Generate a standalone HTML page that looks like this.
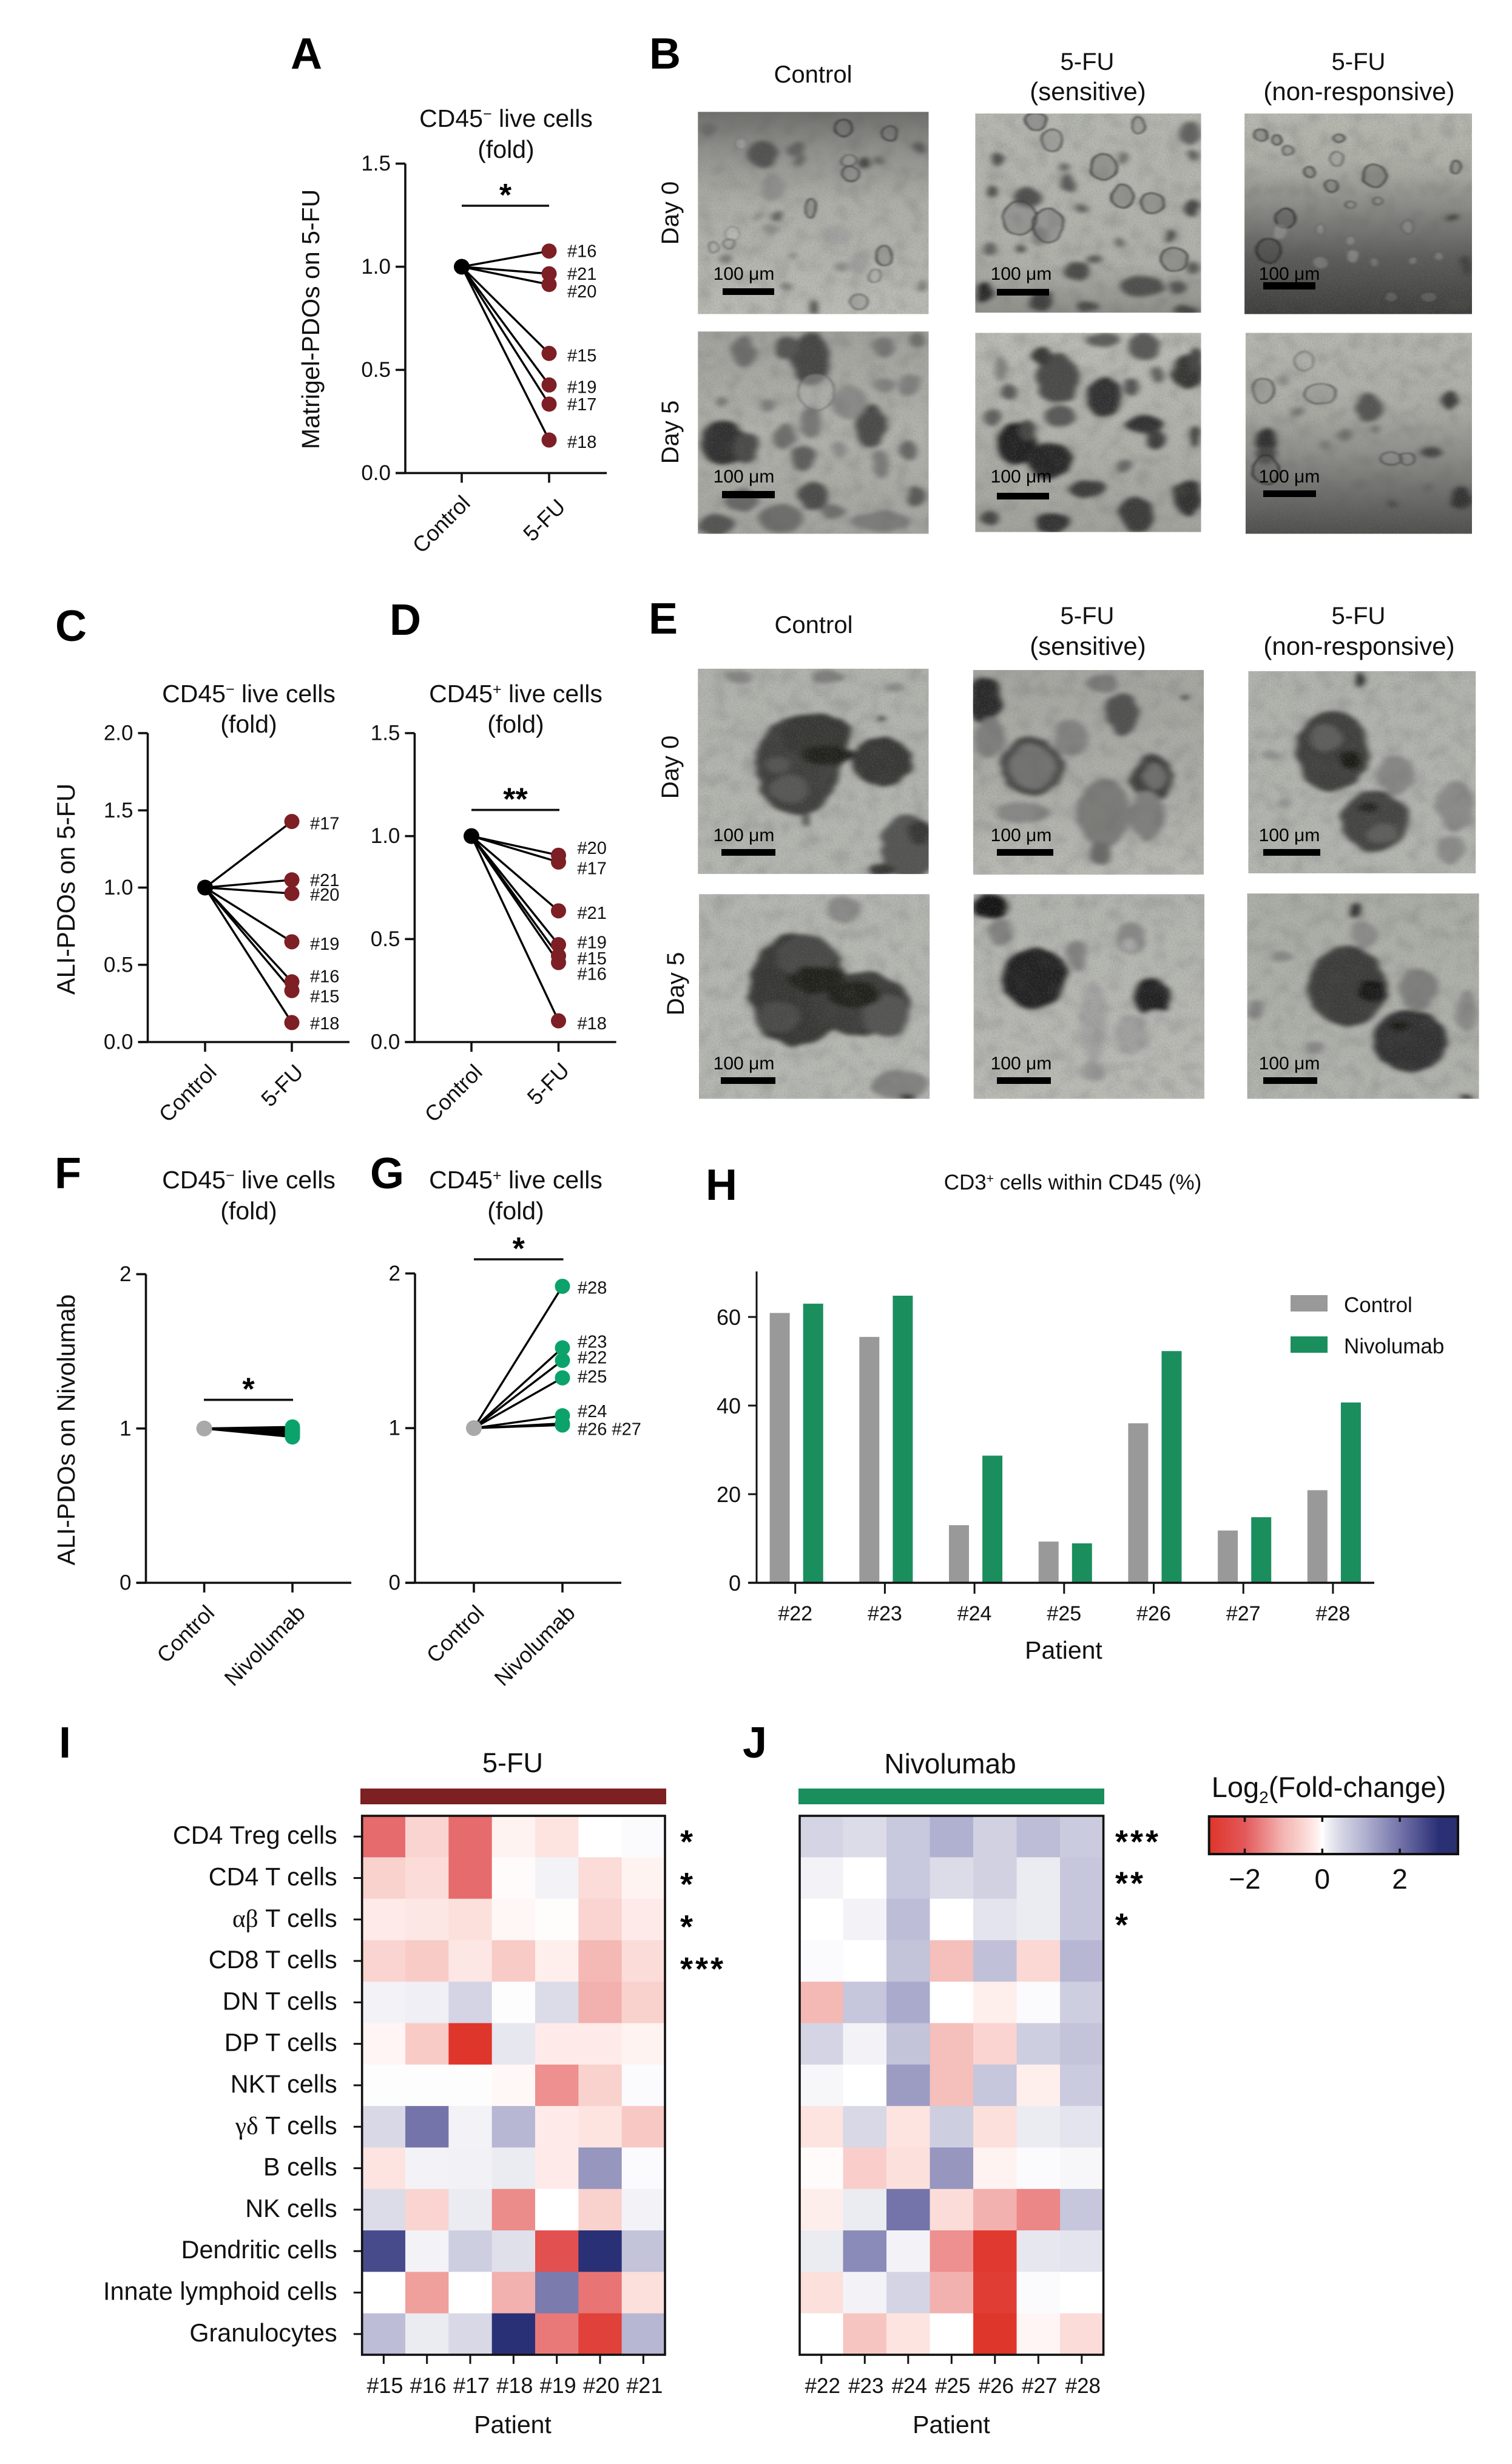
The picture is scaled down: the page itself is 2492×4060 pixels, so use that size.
<!DOCTYPE html>
<html lang="en">
<head>
<meta charset="utf-8">
<title>PDO drug response figure</title>
<style>
html,body{margin:0;padding:0;background:#fff;}
svg{display:block;font-family:"Liberation Sans",sans-serif;fill:#111;}
.pl{font-size:72px;font-weight:bold;fill:#000;}
.h{font-size:40px;text-anchor:middle;}
.h2{font-size:42px;text-anchor:middle;}
.t{font-size:41px;text-anchor:middle;}
.d{font-size:40px;text-anchor:middle;}
</style>
</head>
<body>
<svg id="fig" xmlns="http://www.w3.org/2000/svg" width="2492" height="4060" viewBox="0 0 2492 4060">
<defs>
<filter id="soft" x="-20%" y="-20%" width="140%" height="140%">
<feTurbulence type="fractalNoise" baseFrequency="0.025" numOctaves="2" seed="7" result="n"/>
<feDisplacementMap in="SourceGraphic" in2="n" scale="18" xChannelSelector="R" yChannelSelector="G"/>
<feGaussianBlur stdDeviation="6"/>
</filter>
<filter id="ringblur" x="-20%" y="-20%" width="140%" height="140%">
<feTurbulence type="fractalNoise" baseFrequency="0.03" numOctaves="2" seed="3" result="n"/>
<feDisplacementMap in="SourceGraphic" in2="n" scale="8" xChannelSelector="R" yChannelSelector="G"/>
<feGaussianBlur stdDeviation="2.4"/>
</filter>
<filter id="grain" x="0" y="0" width="100%" height="100%">
<feTurbulence type="fractalNoise" baseFrequency="0.4" numOctaves="2" seed="4"/>
<feColorMatrix type="matrix" values="0 0 0 0 0.2  0 0 0 0 0.2  0 0 0 0 0.2  2.2 0 0 0 -0.98"/>
</filter>
<filter id="mottle" x="0" y="0" width="100%" height="100%">
<feTurbulence type="fractalNoise" baseFrequency="0.04" numOctaves="2" seed="11"/>
<feColorMatrix type="matrix" values="0 0 0 0 0.1  0 0 0 0 0.1  0 0 0 0 0.1  1.6 0 0 0 -0.7"/>
<feGaussianBlur stdDeviation="3"/>
</filter>
</defs>
<rect width="2492" height="4060" fill="#fff"/>
<g id="micrographs"></g>

<text class="pl" x="479" y="113">A</text>
<text class="pl" x="1070" y="113">B</text>
<text class="pl" x="91" y="1056">C</text>
<text class="pl" x="642" y="1046">D</text>
<text class="pl" x="1069" y="1044">E</text>
<text class="pl" x="90" y="1958">F</text>
<text class="pl" x="610" y="1958">G</text>
<text class="pl" x="1163" y="1977">H</text>
<text class="pl" x="97" y="2896">I</text>
<text class="pl" x="1224" y="2896">J</text>

<g>
<text class="h" x="1340" y="136">Control</text>
<text class="h" x="1792" y="115">5-FU</text>
<text class="h2" x="1793" y="165">(sensitive)</text>
<text class="h" x="2239" y="115">5-FU</text>
<text class="h2" x="2240" y="165">(non-responsive)</text>
<text class="d" transform="translate(1118,351) rotate(-90)">Day 0</text>
<text class="d" transform="translate(1118,712) rotate(-90)">Day 5</text>
</g>
<g>
<text class="h" x="1341" y="1043">Control</text>
<text class="h" x="1792" y="1028">5-FU</text>
<text class="h2" x="1793" y="1079">(sensitive)</text>
<text class="h" x="2239" y="1028">5-FU</text>
<text class="h2" x="2240" y="1079">(non-responsive)</text>
<text class="d" transform="translate(1118,1264) rotate(-90)">Day 0</text>
<text class="d" transform="translate(1127,1621) rotate(-90)">Day 5</text>
</g>
<g id="scalebars"></g>

<!-- panel titles and axis titles -->
<text class="t" x="834" y="209">CD45<tspan dy="-13" font-size="25">−</tspan><tspan dy="13"> live cells</tspan></text>
<text class="t" x="834" y="260">(fold)</text>
<text class="t" transform="translate(526,526) rotate(-90)">Matrigel-PDOs on 5-FU</text>
<text class="t" x="410" y="1157">CD45<tspan dy="-13" font-size="25">−</tspan><tspan dy="13"> live cells</tspan></text>
<text class="t" x="410" y="1207">(fold)</text>
<text class="t" style="font-size:41.5px" transform="translate(123,1465) rotate(-90)">ALI-PDOs on 5-FU</text>
<text class="t" x="850" y="1157">CD45<tspan dy="-13" font-size="25">+</tspan><tspan dy="13"> live cells</tspan></text>
<text class="t" x="850" y="1207">(fold)</text>
<text class="t" x="410" y="1958">CD45<tspan dy="-13" font-size="25">−</tspan><tspan dy="13"> live cells</tspan></text>
<text class="t" x="410" y="2009">(fold)</text>
<text class="t" transform="translate(123,2356) rotate(-90)">ALI-PDOs on Nivolumab</text>
<text class="t" x="850" y="1958">CD45<tspan dy="-13" font-size="25">+</tspan><tspan dy="13"> live cells</tspan></text>
<text class="t" x="850" y="2009">(fold)</text>
<text x="1768" y="1960" font-size="35" text-anchor="middle">CD3<tspan dy="-11" font-size="21">+</tspan><tspan dy="11"> cells within CD45 (%)</tspan></text>
<text x="1753" y="2733" font-size="41" text-anchor="middle">Patient</text>

<g id="charts"></g>

<text x="845" y="2920" font-size="45" text-anchor="middle">5-FU</text>
<rect x="594" y="2947" width="504" height="26" fill="#7d2022"/>
<text x="1566" y="2922" font-size="46" text-anchor="middle">Nivolumab</text>
<rect x="1316" y="2947" width="504" height="26" fill="#1b8e5e"/>
<text x="845" y="4009" font-size="41" text-anchor="middle">Patient</text>
<text x="1568" y="4009" font-size="41" text-anchor="middle">Patient</text>
<text x="2190" y="2961" font-size="47" text-anchor="middle">Log<tspan dy="10" font-size="28">2</tspan><tspan dy="-10">(Fold-change)</tspan></text>

<script>
// ---- Panel A: Matrigel-PDOs on 5-FU, CD45- live cells
const patientsA = ['#16','#21','#20','#15','#19','#17','#18'];
const valuesA = [1.076,0.966,0.914,0.58,0.427,0.334,0.16];
const ticksA = [0,0.5,1,1.5];
const tickLabelsA = ['0.0','0.5','1.0','1.5'];
// ---- Panel C: ALI-PDOs on 5-FU, CD45- live cells
const patientsC = ['#17','#21','#20','#19','#16','#15','#18'];
const valuesC = [1.428,1.05,0.962,0.649,0.39,0.333,0.126];
const ticksC = [0,0.5,1,1.5,2];
const tickLabelsC = ['0.0','0.5','1.0','1.5','2.0'];
// ---- Panel D: ALI-PDOs on 5-FU, CD45+ live cells
const patientsD = ['#20','#17','#21','#19','#15','#16','#18'];
const valuesD = [0.907,0.874,0.637,0.473,0.419,0.386,0.103];
const ticksD = [0,0.5,1,1.5];
const tickLabelsD = ['0.0','0.5','1.0','1.5'];
// ---- Panel F: ALI-PDOs on Nivolumab, CD45- live cells
const patientsF = ['','','','','','',''];
const valuesF = [1.01,1.0,0.99,0.98,0.97,0.96,0.945];
const ticksF = [0,1,2];
const tickLabelsF = ['0','1','2'];
// ---- Panel G: ALI-PDOs on Nivolumab, CD45+ live cells
const patientsG = ['#28','#23','#22','#25','#24','#26 #27',''];
const valuesG = [1.917,1.519,1.438,1.325,1.08,1.03,1.02];
const ticksG = [0,1,2];
const tickLabelsG = ['0','1','2'];
// ---- Panel H: CD3+ cells within CD45 (%)
const categoriesH = ['#22','#23','#24','#25','#26','#27','#28'];
const controlH = [60.9,55.5,13,9.3,36,11.8,20.9];
const nivolumabH = [63,64.8,28.7,8.9,52.3,14.8,40.7];
const ticksH = [0,20,40,60];
// ---- Panels I / J: heatmaps of Log2(fold-change)
const cellTypes = ['CD4 Treg cells','CD4 T cells','αβ T cells','CD8 T cells','DN T cells','DP T cells','NKT cells','γδ T cells','B cells','NK cells','Dendritic cells','Innate lymphoid cells','Granulocytes'];
const patientsI = ['#15','#16','#17','#18','#19','#20','#21'];
const patientsJ = ['#22','#23','#24','#25','#26','#27','#28'];
const heatI = [
[-1.8,-0.5,-1.8,-0.1,-0.3,0,0.03],
[-0.55,-0.4,-1.8,-0.03,0.1,-0.4,-0.1],
[-0.2,-0.25,-0.35,-0.07,-0.02,-0.5,-0.2],
[-0.5,-0.65,-0.25,-0.65,-0.15,-0.95,-0.4],
[0.1,0.15,0.5,0.02,0.4,-1.05,-0.55],
[-0.08,-0.65,-2.9,0.25,-0.2,-0.2,-0.1],
[0.02,0.02,0.02,-0.06,-1.4,-0.55,0.03],
[0.45,2.0,0.1,1.0,-0.2,-0.3,-0.7],
[-0.3,0.1,0.12,0.2,-0.2,1.5,0.03],
[0.4,-0.5,0.2,-1.45,0,-0.55,0.1],
[2.6,0.1,0.6,0.35,-2.2,3.0,0.8],
[0,-1.25,0,-1.05,1.9,-1.7,-0.35],
[0.9,0.2,0.45,3.0,-1.65,-2.6,1.0]];
const heatJ = [
[0.5,0.4,0.7,1.1,0.55,0.9,0.65],
[0.1,0,0.7,0.4,0.55,0.2,0.75],
[0,0.1,0.9,0,0.3,0.2,0.75],
[0.03,0,0.8,-0.85,0.85,-0.45,1.0],
[-0.95,0.75,1.2,0,-0.15,0.03,0.6],
[0.5,0.1,0.8,-0.85,-0.5,0.6,0.8],
[0.07,0,1.4,-0.85,0.75,-0.15,0.65],
[-0.3,0.45,-0.3,0.6,-0.35,0.2,0.3],
[-0.03,-0.6,-0.35,1.5,-0.1,0.03,0.07],
[-0.17,0.2,2.0,-0.4,-1.05,-1.5,0.75],
[0.2,1.65,0.1,-1.4,-2.8,0.25,0.3],
[-0.35,0.1,0.5,-1.05,-2.7,0.03,0],
[0,-0.75,-0.3,0,-2.9,-0.08,-0.4]];
const starsI = ['*','*','*','***'];
const starsJ = ['***','**','*'];
const colorbarTicks = [-2,0,2];

const NS = 'http://www.w3.org/2000/svg';
const charts = document.getElementById('charts');
function mk(parent, tag, attrs, text) {
  const el = document.createElementNS(NS, tag);
  for (const k in attrs) el.setAttribute(k, attrs[k]);
  if (text !== undefined) el.textContent = text;
  parent.appendChild(el);
  return el;
}
const AXC = '#111';
const AXW = 3.6;

function drawPaired(cfg) {
  const g = mk(charts, 'g', {});
  
  
  const y = v => cfg.yBottom - (v / cfg.yMax) * (cfg.yBottom - cfg.yTop);
  const yAxis = mk(g, 'line', {x1:cfg.axisX,x2:cfg.axisX,y1:cfg.yTop,y2:cfg.yBottom,stroke:AXC,'stroke-width':AXW});
  
  
  const xAxis = mk(g, 'line', {x1:cfg.axisX-16,x2:cfg.xEnd,y1:cfg.yBottom,y2:cfg.yBottom,stroke:AXC,'stroke-width':AXW});
  
  
  cfg.ticks.forEach((t, i) => {
    const tk = mk(g, 'line', {x1:cfg.axisX-16,x2:cfg.axisX,y1:y(t),y2:y(t),stroke:AXC,'stroke-width':AXW});
    
    
    const lb = mk(g, 'text', {x:cfg.axisX-24,y:y(t)+11.5,'font-size':35,'text-anchor':'end'}, cfg.tickLabels[i]);
    
    
  });
  [[cfg.ctrlX, cfg.cats[0], cfg.catShift[0]], [cfg.treatX, cfg.cats[1], cfg.catShift[1]]].forEach(([x, name, sh]) => {
    const tk = mk(g, 'line', {x1:x,x2:x,y1:cfg.yBottom,y2:cfg.yBottom+16,stroke:AXC,'stroke-width':AXW});
    
    
    const lb = mk(g, 'text', {'font-size':36,'text-anchor':'end',transform:'translate('+(x+15+sh[0])+','+(cfg.yBottom+50+sh[1])+') rotate(-45)'}, name);
    
    
  });
  cfg.values.forEach(v => {
    const ln = mk(g, 'line', {x1:cfg.ctrlX,y1:y(1),x2:cfg.treatX,y2:y(v),stroke:'#000','stroke-width':3.4});
    
    
  });
  cfg.values.forEach((v, i) => {
    const pt = mk(g, 'circle', {cx:cfg.treatX,cy:y(v),r:12.5,fill:cfg.dot});
    
    
    if (cfg.patients[i]) {
      const lb = mk(g, 'text', {x:cfg.treatX+cfg.labelDx,y:y(v)+cfg.nudges[i]+10,'font-size':29}, cfg.patients[i]);
      
      
    }
  });
  const c = mk(g, 'circle', {cx:cfg.ctrlX,cy:y(1),r:13,fill:cfg.ctrlDot});
  
  
  if (cfg.sig) {
    const b = mk(g, 'line', {x1:cfg.sig.x1,x2:cfg.sig.x2,y1:cfg.sig.y,y2:cfg.sig.y,stroke:'#111','stroke-width':3.6});
    
    
    const s = mk(g, 'text', {x:(cfg.sig.x1+cfg.sig.x2)/2,y:cfg.sig.y,'font-size':52,'font-weight':'bold','text-anchor':'middle','fill':'#000'}, cfg.sig.stars);
    
    
  }
}
drawPaired({name:'chart-a',axisX:668,ctrlX:761,treatX:905,xEnd:1000,yTop:269.6,yBottom:779.4,yMax:1.5,ticks:ticksA,tickLabels:tickLabelsA,values:valuesA,patients:patientsA,nudges:[0,0,11,3,3,0,3],labelDx:30,dot:'#7d1f24',ctrlDot:'#000',cats:['Control','5-FU'],catShift:[[1,2],[14,8]],sig:{x1:761,x2:905,y:339,stars:'*'}});
drawPaired({name:'chart-c',axisX:243.5,ctrlX:338,treatX:481,xEnd:576,yTop:1208,yBottom:1717,yMax:2,ticks:ticksC,tickLabels:tickLabelsC,values:valuesC,patients:patientsC,nudges:[3,0,2,3,-9,9,1],labelDx:30,dot:'#7d1f24',ctrlDot:'#000',cats:['Control','5-FU'],catShift:[[6,2],[6,2]]});
drawPaired({name:'chart-d',axisX:683.4,ctrlX:777,treatX:920.5,xEnd:1015.6,yTop:1208,yBottom:1717,yMax:1.5,ticks:ticksD,tickLabels:tickLabelsD,values:valuesD,patients:patientsD,nudges:[-12,10,3,-4,4,18.5,4],labelDx:31,dot:'#7d1f24',ctrlDot:'#000',cats:['Control','5-FU'],catShift:[[5,2],[5,-1]],sig:{x1:777,x2:922,y:1334.6,stars:'**'}});
drawPaired({name:'chart-f',axisX:240.5,ctrlX:336.6,treatX:482,xEnd:579,yTop:2099.5,yBottom:2608,yMax:2,ticks:ticksF,tickLabels:tickLabelsF,values:valuesF,patients:patientsF,nudges:[0,0,0,0,0,0,0],labelDx:30,dot:'#0ba36b',ctrlDot:'#a9a9a9',cats:['Control','Nivolumab'],catShift:[[4,2],[8,2]],sig:{x1:336,x2:483,y:2306.6,stars:'*'}});
drawPaired({name:'chart-g',axisX:684,ctrlX:781,treatX:927,xEnd:1024,yTop:2098.3,yBottom:2608,yMax:2,ticks:ticksG,tickLabels:tickLabelsG,values:valuesG,patients:patientsG,nudges:[2,-10.5,-5,-2.3,-8,9,0],labelDx:25,dot:'#0ba36b',ctrlDot:'#a9a9a9',cats:['Control','Nivolumab'],catShift:[[4,2],[8,2]],sig:{x1:781,x2:928.5,y:2075,stars:'*'}});

// Panel H: bar chart
(function () {
  const g = mk(charts, 'g', {});
  
  
  const axisX = 1247, y0 = 2608, unit = 7.3, firstTick = 1310.7, step = 147.7, bw = 33;
  const y = v => y0 - v * unit;
  const x = i => firstTick + i * step;
  categoriesH.forEach((c, i) => {
    const a = mk(g, 'rect', {x:x(i)-25.6-bw/2,y:y(controlH[i]),width:bw,height:controlH[i]*unit,fill:'#999999'});
    
    
    const b = mk(g, 'rect', {x:x(i)+29.5-bw/2,y:y(nivolumabH[i]),width:bw,height:nivolumabH[i]*unit,fill:'#1b8e5e'});
    
    
    const tk = mk(g, 'line', {x1:x(i),x2:x(i),y1:y0,y2:y0+18,stroke:AXC,'stroke-width':3});
    
    
    const lb = mk(g, 'text', {x:x(i),y:y0+62,'font-size':34,'text-anchor':'middle'}, c);
    
    
  });
  const ya = mk(g, 'line', {x1:axisX,x2:axisX,y1:2095,y2:y0,stroke:AXC,'stroke-width':3});
  
  
  const xa = mk(g, 'line', {x1:axisX-14,x2:2265,y1:y0,y2:y0,stroke:AXC,'stroke-width':3.4});
  
  
  ticksH.forEach(t => {
    const tk = mk(g, 'line', {x1:axisX-14,x2:axisX,y1:y(t),y2:y(t),stroke:AXC,'stroke-width':3});
    
    
    const lb = mk(g, 'text', {x:axisX-26,y:y(t)+13,'font-size':36,'text-anchor':'end'}, String(t));
    
    
  });
  const s1 = mk(g, 'rect', {x:2127,y:2134,width:61,height:27,fill:'#999999'});
  
  
  const t1 = mk(g, 'text', {x:2215,y:2162,'font-size':35}, 'Control');
  
  
  const s2 = mk(g, 'rect', {x:2127,y:2202,width:61,height:27,fill:'#1b8e5e'});
  
  
  const t2 = mk(g, 'text', {x:2215,y:2230,'font-size':35}, 'Nivolumab');
  
  
})();

// Heatmap colour scale
const scaleStops = [[-2.92,[223,53,42]],[-2,[227,88,90]],[-1,[243,182,178]],[-0.5,[250,212,208]],[-0.1,[255,243,241]],[0,[255,255,255]],[0.1,[243,243,247]],[0.5,[212,212,228]],[1,[183,183,212]],[2,[116,116,170]],[3,[42,48,118]],[3.5,[42,47,112]]];
function heatColor(v) {
  if (v <= scaleStops[0][0]) return 'rgb(' + scaleStops[0][1].join(',') + ')';
  for (let i = 1; i < scaleStops.length; i++) {
    const a = scaleStops[i-1], b = scaleStops[i];
    if (v <= b[0]) {
      const t = (v - a[0]) / (b[0] - a[0]);
      return 'rgb(' + a[1].map((c, k) => Math.round(c + (b[1][k] - c) * t)).join(',') + ')';
    }
  }
  return 'rgb(' + scaleStops[scaleStops.length-1][1].join(',') + ')';
}

function drawHeat(cfg) {
  const g = mk(charts, 'g', {});
  
  
  const x0 = cfg.x, y0 = 2992, W = cfg.w, H = 888;
  const cw = W / cfg.cols.length, ch = H / cfg.data.length;
  cfg.data.forEach((row, r) => {
    row.forEach((v, c) => {
      const cell = mk(g, 'rect', {x:x0+c*cw,y:y0+r*ch,width:cw+0.4,height:ch+0.4,fill:heatColor(v)});
      
      
    });
  });
  const fr = mk(g, 'rect', {x:x0,y:y0,width:W,height:H,fill:'none',stroke:'#111','stroke-width':3.6});
  
  
  cfg.cols.forEach((c, i) => {
    const cx = x0 + (i + 0.5) * cw;
    const tk = mk(g, 'line', {x1:cx,x2:cx,y1:y0+H,y2:y0+H+15,stroke:'#111','stroke-width':3});
    
    
    const lb = mk(g, 'text', {x:cx+2,y:y0+H+63,'font-size':cfg.colFont,'text-anchor':'middle'}, c);
    
    
  });
  if (cfg.rows) {
    cfg.rows.forEach((name, i) => {
      const cy = y0 + (i + 0.5) * ch;
      const tk = mk(g, 'line', {x1:x0-14,x2:x0,y1:cy,y2:cy,stroke:'#111','stroke-width':3});
      
      
      const lb = mk(g, 'text', {x:x0-41,y:cy+12,'font-size':41.3,'text-anchor':'end'});
      
      
      const m = name.match(/^([αβγδ]+)(.*)$/);
      if (m) {
        const gr = mk(lb, 'tspan', {'font-family':'"Liberation Serif",serif'}, m[1]);
        
        
        lb.appendChild(document.createTextNode(m[2]));
      } else {
        lb.textContent = name;
      }
    });
  }
  cfg.stars.forEach((s, i) => {
    const cy = y0 + (i + 0.5) * ch;
    const lb = mk(g, 'text', {x:cfg.starX,y:cy+27+cfg.starStep*i,'font-size':54,'font-weight':'bold',fill:'#000','letter-spacing':'4'}, s);
    
    
  });
}
drawHeat({name:'heatmap-5fu',x:596.7,w:499.3,data:heatI,cols:patientsI,rows:cellTypes,stars:starsI,starX:1121,starStep:1.5,colFont:36});
drawHeat({name:'heatmap-nivolumab',x:1318,w:500.6,data:heatJ,cols:patientsJ,stars:starsJ,starX:1838,starStep:0,colFont:35});

// Colour bar
(function () {
  const g = mk(charts, 'g', {});
  
  
  const x = v => 2179.3 + v * 63.9;
  const defs = document.querySelector('#fig defs');
  const grad = mk(defs, 'linearGradient', {id:'cbar'});
  const lo = -2.92, hi = 3.5;
  scaleStops.forEach(s => {
    mk(grad, 'stop', {offset:((s[0]-lo)/(hi-lo)),'stop-color':heatColor(s[0])});
  });
  const r = mk(g, 'rect', {x:x(lo),y:2993,width:x(hi)-x(lo),height:62,fill:'url(#cbar)',stroke:'#111','stroke-width':4});
  
  
  colorbarTicks.forEach(t => {
    const a = mk(g, 'line', {x1:x(t),x2:x(t),y1:2993,y2:3002,stroke:'#111','stroke-width':3.5});
    
    
    const b = mk(g, 'line', {x1:x(t),x2:x(t),y1:3046,y2:3055,stroke:'#111','stroke-width':3.5});
    
    
    const lb = mk(g, 'text', {x:x(t),y:3112,'font-size':46,'text-anchor':'middle'}, (t < 0 ? '−' : '') + Math.abs(t));
    
    
  });
})();

// Micrographs: approximated with soft blobs (drawn in a local coordinate frame)
const micro = document.getElementById('micrographs');
const bars = document.getElementById('scalebars');
const images = [
 {n:'b-control-day0',f:[1060,40],k:1.1,box:[101,257,527,851],bg:[[0,'#6f6f6c'],[.18,'#8f908b'],[.45,'#aeafa8'],[1,'#bbbcb5']],
  blobs:'220 380 28 40 75;120 310 14 20 95;180 350 10 15 150 r;285 365 12 18 80;280 370 14 18 90;370 305 16 25 70 r;455 320 14 22 80 r;510 365 12 16 80;380 400 14 18 110 r;410 405 12 18 60;383 440 16 22 90 r;290 400 10 15 90;435 400 8 10 90;240 480 22 40 130;310 540 10 28 90 r;248 565 10 15 85;212 565 8 12 125;165 615 13 20 160 r;130 655 10 15 130 r;160 645 10 15 130 r;155 690 10 15 110;235 600 12 16 130;445 680 15 30 90 r;428 738 12 18 130 r;365 712 10 15 125;398 815 15 22 120 r;275 680 8 10 120;265 770 10 12 115;515 770 10 16 110;400 700 20 30 145;360 620 25 30 150;315 830 8 22 60',bar:[1191,475,85,11],lab:[1226,461]},
 {n:'b-sensitive-day0',f:[1060,40],k:1,box:[613,262,1030,847],bg:[[0,'#b6b8b1'],[.75,'#b0b1aa'],[1,'#8f908a']],
  blobs:'695 570 32 48 95 r;748 590 27 50 95 r;850 420 24 38 85 r;885 505 20 35 85 r;725 285 20 25 85 r;755 340 20 32 110 r;915 295 12 25 105 r;655 400 12 20 80;645 490 10 16 70;710 510 25 30 80;785 470 14 30 90;940 525 22 30 90 r;1010 320 22 35 100;1015 385 12 18 95;980 690 25 35 85 r;800 725 25 25 75;920 770 40 30 80;985 770 15 20 85;735 815 20 30 65;630 785 15 28 40;830 690 15 15 90;1015 540 14 25 70;970 620 8 20 70;880 640 10 15 105;810 540 10 15 95;775 420 10 15 100;1015 720 12 18 90;640 660 12 20 100;820 830 20 15 75;1000 840 25 12 70;700 660 8 12 80;885 390 10 18 110;730 620 15 30 130',bar:[1643,476,86,11],lab:[1683,461]},
 {n:'b-nonresp-day0',f:[1060,40],k:1,box:[1110,262,1530,851],bg:[[0,'#b8b9b1'],[.25,'#afb0a8'],[.45,'#8d8e89'],[.72,'#5c5c5a'],[1,'#3d3d3b']],
  blobs:'1350 445 21 34 80 r;1185 570 18 28 60 r;1155 665 23 36 40 r;1500 420 10 20 90 r;1270 475 12 18 90 r;1230 435 10 15 90 r;1140 325 12 18 90 r;1170 340 10 15 90 r;1190 370 10 15 110 r;1285 335 10 12 100 r;1280 395 12 20 130 r;1305 530 8 10 120 r;1410 595 10 20 130 r;1250 600 8 15 140 r;1305 635 8 14 140 r;1310 680 10 18 150 r;1250 700 14 18 130 r;1470 680 8 12 130 r;1520 710 10 30 60;1380 800 12 15 100 r;1450 800 15 15 100 r;1495 570 14 8 60;1355 520 8 10 120 r;1175 610 12 22 150 r;1350 700 8 12 130 r;1420 695 8 10 130 r;1505 815 20 25 70',bar:[2082,465,86,12],lab:[2125,461]},
 {n:'b-control-day5',f:[1060,40],k:1,box:[101,902,527,1496],bg:[[0,'#a2a39d'],[.5,'#b2b3ac'],[1,'#a4a59f']],
  blobs:'150 1230 44 66 50;190 1245 22 46 75;310 985 36 78 70;265 950 20 35 85;320 1080 34 52 150 r;185 960 22 46 110;420 1180 28 62 75;445 950 22 32 120;315 1385 27 42 75;180 1400 32 32 105;295 1275 22 42 95;260 1210 20 42 110;490 1250 18 30 105;380 1110 32 52 140;490 1060 22 32 130;255 1450 42 42 110;440 1460 52 30 125;135 1470 32 32 85;505 1390 15 30 90;360 1250 15 25 140;440 1290 15 42 125;310 1170 20 50 120;145 1110 10 15 120;230 1120 15 20 130;445 1060 18 22 130;505 925 15 22 110;350 1430 20 25 110',bar:[1190,809,87,12],lab:[1226,795]},
 {n:'b-sensitive-day5',f:[1060,40],k:1,box:[613,906,1030,1491],bg:[[0,'#bcbdb6'],[.5,'#b2b3ac'],[1,'#a2a39d']],
  blobs:'765 1040 40 72 75;735 975 16 30 55;850 1095 33 56 50;900 1065 14 25 85;925 1175 35 25 50;945 1220 18 30 60;1005 1020 30 52 55;1018 985 12 40 70;925 945 30 40 90;850 925 30 20 95;675 1080 15 25 90;690 1230 36 62 35;750 1280 42 52 40;710 1190 15 30 70;770 1150 30 30 90;820 1365 32 25 60;910 1440 32 52 60;755 1465 32 30 50;1005 1390 25 52 50;885 1300 15 20 105;645 1155 16 25 100;1020 1210 8 30 60;640 1450 15 22 70;990 1370 12 20 60;950 1030 12 22 100;660 1010 10 40 130',bar:[1643,812,86,11],lab:[1683,795]},
 {n:'b-nonresp-day5',f:[1060,40],k:1,box:[1112,906,1530,1496],bg:[[0,'#b6b7b0'],[.35,'#aeafa8'],[.6,'#8f908b'],[1,'#4e4e4c']],
  blobs:'1340 1125 26 44 85;1490 1105 16 27 60;1145 1075 20 35 115 r;1220 990 18 28 150 r;1250 1085 30 30 120 r;1150 1220 22 36 50;1150 1310 24 42 70 r;1150 1265 18 24 70;1380 1275 20 18 110 r;1410 1275 14 18 110 r;1510 1390 20 32 50;1320 1355 12 18 110;1455 1255 22 14 70;1295 1205 15 15 115;1210 1140 12 15 120;1260 1240 10 15 120;1180 1045 12 15 140;1350 1190 8 12 115;1450 1360 8 12 100;1380 1410 10 10 70',bar:[2082,808,87,11],lab:[2125,795]},
 {n:'e-control-day0',f:[1060,980],k:.8,box:[101,217,527,820],bg:[[0,'#b2b4ae'],[1,'#b5b7b1']],
  blobs:'285 500 78 145 80;320 415 65 65 70;440 490 55 72 70;340 470 50 30 40;270 570 36 40 110;250 500 22 25 105;300 660 6 25 90;175 240 25 20 170;340 240 30 20 160;490 740 52 95 105;440 810 25 20 70;510 700 20 40 70;440 365 8 10 70;465 275 15 15 175',bar:[1189,1399,89,11],lab:[1226,1386]},
 {n:'e-sensitive-day0',f:[1060,980],k:.85,box:[609,221,1035,822],bg:[[0,'#a6a7a1'],[.6,'#aeafa9'],[1,'#babbb5']],
  blobs:'630 310 30 65 50;718 505 58 85 85;718 505 42 66 135;940 540 38 70 75;945 535 20 40 130;885 350 30 62 95;850 640 50 100 145;930 650 32 72 150;845 760 22 36 125;790 420 32 52 155;640 420 28 60 150;700 640 50 30 160;850 260 30 25 145;1000 300 8 8 80',bar:[1643,1399,93,11],lab:[1683,1386]},
 {n:'e-nonresp-day0',f:[1060,980],k:.85,box:[1117,224,1537,818],bg:[[0,'#b2b4ae'],[1,'#b4b6b0']],
  blobs:'1272 460 68 118 75;1260 420 28 40 110;1305 485 20 32 30;1350 665 62 90 80;1340 625 20 15 40;1365 700 28 30 110;1390 530 36 56 160;1500 620 35 72 165;1490 750 25 46 165;1325 250 10 22 50;1160 470 14 15 170;1185 610 15 15 180',bar:[2082,1399,94,11],lab:[2125,1386]},
 {n:'e-control-day5',f:[1060,980],k:.8,box:[103,879,529,1480],bg:[[0,'#b6b8b2'],[1,'#b7b9b3']],
  blobs:'285 1160 90 165 70;300 1060 55 60 90;400 1200 92 92 75;450 1235 42 65 105;320 1130 50 42 40;390 1175 45 40 40;250 1240 38 45 95;370 925 32 38 175;475 1440 52 42 165;490 1475 15 8 70',bar:[1188,1775,90,11],lab:[1226,1762]},
 {n:'e-sensitive-day5',f:[1060,980],k:.85,box:[610,879,1036,1480],bg:[[0,'#b4b6b0'],[1,'#babbb5']],
  blobs:'640 915 32 36 25;722 1125 60 88 40;940 1185 32 60 40;945 1240 22 22 215;900 1010 27 48 160;900 1030 14 20 200;660 990 22 40 155;800 1060 18 45 155;830 1250 26 120 195;900 1290 30 60 190;830 1400 22 32 180',bar:[1643,1775,89,11],lab:[1683,1762]},
 {n:'e-nonresp-day5',f:[1060,980],k:.85,box:[1115,877,1543,1480],bg:[[0,'#acaea7'],[1,'#b2b4ae']],
  blobs:'1300 1150 72 118 70;1345 1165 24 32 25;1415 1310 70 90 60;1395 1265 20 15 30;1430 1160 36 62 150;1315 925 12 20 50;1330 1000 25 40 165;1180 1060 20 15 160;1130 1220 15 30 160;1240 1330 18 20 160;1520 1220 20 60 165;1520 1475 10 8 60',bar:[2082,1775,89,11],lab:[2125,1762]}
];
const SX = 1 / 1.12, SY = 1 / 1.782;
images.forEach((im, idx) => {
  const g = mk(micro, 'g', {});
  
  
  const px = im.f[0] + im.box[0] * SX, py = im.f[1] + im.box[1] * SY;
  const pw = (im.box[2] - im.box[0]) * SX, ph = (im.box[3] - im.box[1]) * SY;
  const defs = document.querySelector('#fig defs');
  const grad = mk(defs, 'linearGradient', {id:'bg' + idx, x1:0, y1:0, x2:0, y2:1});
  im.bg.forEach(s => mk(grad, 'stop', {offset:s[0], 'stop-color':s[1]}));
  const clip = mk(defs, 'clipPath', {id:'clip' + idx});
  mk(clip, 'rect', {x:px, y:py, width:pw, height:ph});
  const inner = mk(g, 'g', {'clip-path':'url(#clip' + idx + ')'});
  mk(inner, 'rect', {x:px, y:py, width:pw, height:ph, fill:'url(#bg' + idx + ')'});
  const local = mk(inner, 'g', {transform:'translate(' + im.f[0] + ',' + im.f[1] + ') scale(' + SX + ',' + SY + ')'});
  const soft = mk(local, 'g', {filter:'url(#soft)'});
  const rings = mk(local, 'g', {filter:'url(#ringblur)'});
  im.blobs.split(';').forEach(s => {
    const p = s.trim().split(' ');
    const gr = Math.round(+p[4] * im.k);
    if (p[5] === 'r') {
      const line = Math.max(gr - 35, 30);
      mk(rings, 'ellipse', {cx:p[0], cy:p[1], rx:p[2], ry:p[3], fill:'rgb(' + (gr+25) + ',' + (gr+25) + ',' + (gr+23) + ')', 'fill-opacity':0.45, stroke:'rgb(' + line + ',' + line + ',' + line + ')', 'stroke-width':4, 'stroke-opacity':0.85});
    } else {
      mk(soft, 'ellipse', {cx:p[0], cy:p[1], rx:p[2], ry:p[3], fill:'rgb(' + gr + ',' + gr + ',' + (gr-2) + ')'});
    }
  });
  mk(inner, 'rect', {x:px, y:py, width:pw, height:ph, filter:'url(#mottle)', opacity:0.3});
  mk(inner, 'rect', {x:px, y:py, width:pw, height:ph, filter:'url(#grain)', opacity:0.3});
  const b = mk(bars, 'rect', {x:im.bar[0], y:im.bar[1], width:im.bar[2], height:im.bar[3], fill:'#000'});
  
  
  const t = mk(bars, 'text', {x:im.lab[0], y:im.lab[1], 'font-size':30, 'text-anchor':'middle', fill:'#000'}, '100 μm');
  
  
});
</script>
</svg>
</body>
</html>
